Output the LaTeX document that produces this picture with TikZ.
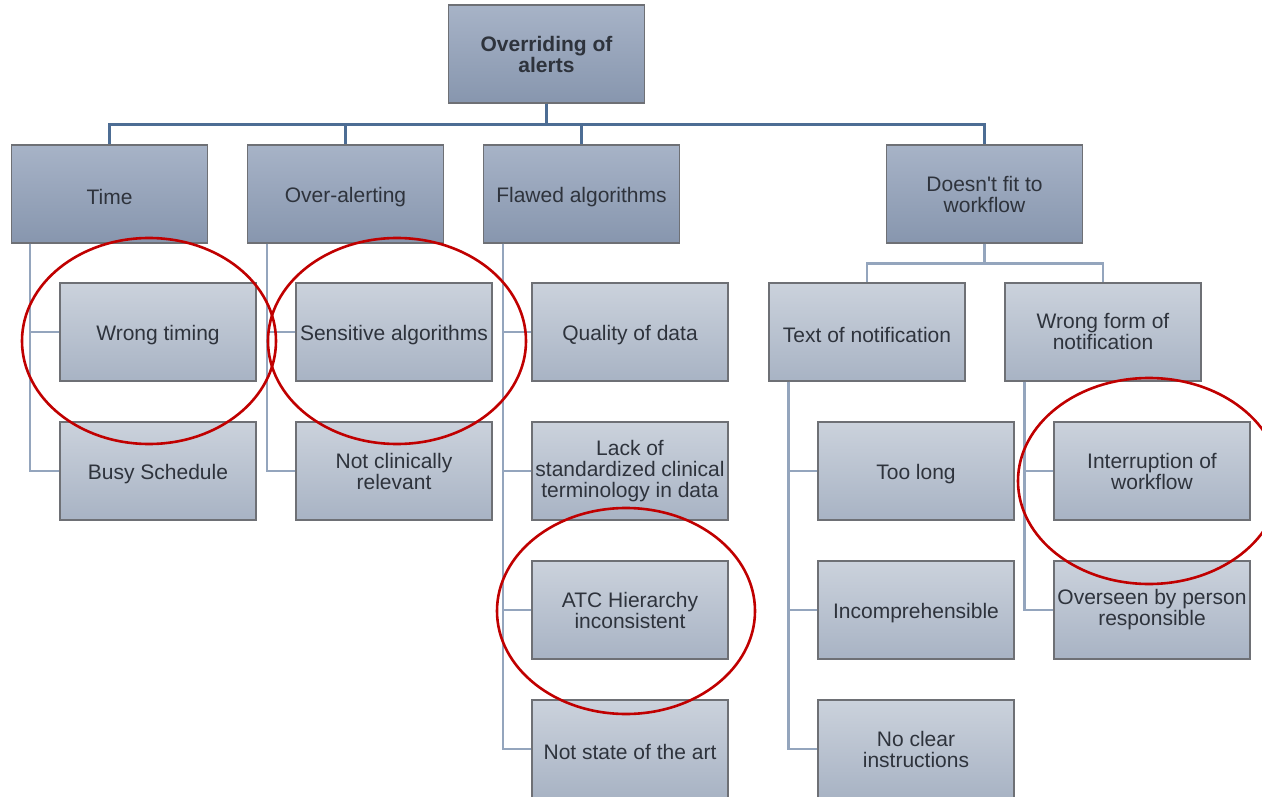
\documentclass[tikz,border=0pt]{standalone}
\usepackage{fontspec}
\setmainfont{Liberation Sans}
\definecolor{txt}{HTML}{2E333C}
\definecolor{bord}{HTML}{6E7075}
\definecolor{aT}{HTML}{A7B3C7}
\definecolor{aB}{HTML}{8796AE}
\definecolor{bT}{HTML}{CBD2DC}
\definecolor{bB}{HTML}{A8B3C4}
\definecolor{mainln}{HTML}{4D6D94}
\definecolor{subln}{HTML}{94A5BD}
\definecolor{ring}{HTML}{C00000}
\newcommand{\oneline}[1]{\raisebox{-3pt}[\height][\depth]{#1}}
\tikzset{
  box/.style={draw=bord, line width=1.2pt, minimum width=196pt, minimum height=98pt,
    inner sep=2pt, align=center, text=txt, font=\fontsize{21}{21}\selectfont},
  lvlA/.style={box, top color=aT, bottom color=aB},
  lvlB/.style={box, top color=bT, bottom color=bB},
  mainconn/.style={draw=mainln, line width=2.6pt},
  subconn/.style={draw=subln, line width=2.4pt},
  redring/.style={draw=ring, line width=2.6pt}
}
\begin{document}
\begin{tikzpicture}[x=1pt,y=-1pt]
\useasboundingbox (0,0) rectangle (1262,797);
% nodes
\node[lvlA, font=\fontsize{21}{21}\selectfont\bfseries] (top) at (546.5,54) {Overriding of\\alerts};
\node[lvlA] (time) at (109.5,194) {\oneline{Time}};
\node[lvlA] (over) at (345.5,194) {\oneline{Over-alerting}};
\node[lvlA] (flaw) at (581.5,194) {\oneline{Flawed algorithms}};
\node[lvlA] (fit) at (984.5,194) {Doesn\textquotesingle t fit to\\workflow};
% level 2
\node[lvlB] (wt) at (158,332) {\oneline{Wrong timing}};
\node[lvlB] (bs) at (158,471) {\oneline{Busy Schedule}};
\node[lvlB] (sa) at (394,332) {\oneline{Sensitive algorithms}};
\node[lvlB] (ncr) at (394,471) {Not clinically\\relevant};
\node[lvlB] (qd) at (630,332) {\oneline{Quality of data}};
\node[lvlB] (lack) at (630,471) {Lack of\\standardized clinical\\terminology in data};
\node[lvlB] (atc) at (630,610) {ATC Hierarchy\\inconsistent};
\node[lvlB] (nsa) at (630,749) {\oneline{Not state of the art}};
\node[lvlB] (ton) at (867,332) {\oneline{Text of notification}};
\node[lvlB] (wfn) at (1103,332) {Wrong form of\\notification};
\node[lvlB] (tl) at (916,471) {\oneline{Too long}};
\node[lvlB] (inc) at (916,610) {\oneline{Incomprehensible}};
\node[lvlB] (nci) at (916,749) {No clear\\instructions};
\node[lvlB] (iow) at (1152,471) {Interruption of\\workflow};
\node[lvlB] (obp) at (1152,610) {Overseen by person\\responsible};
% connectors
\foreach \n in {time,over,flaw,fit}{
  \draw[mainconn] (top.south) -- ++(0,21) -| (\n.north);
}
\draw[subconn] ([xshift=19pt]time.south west) |- (wt.west);
\draw[subconn] ([xshift=19pt]time.south west) |- (bs.west);
\draw[subconn] ([xshift=20pt]over.south west) |- (sa.west);
\draw[subconn] ([xshift=20pt]over.south west) |- (ncr.west);
\foreach \n in {qd,lack,atc,nsa}{
  \draw[subconn] ([xshift=20pt]flaw.south west) |- (\n.west);
}
\draw[subconn] (fit.south) -- ++(0,20) -| (ton.north);
\draw[subconn] (fit.south) -- ++(0,20) -| (wfn.north);
\foreach \n in {tl,inc,nci}{
  \draw[subconn] ([xshift=20pt]ton.south west) |- (\n.west);
}
\draw[subconn] ([xshift=20pt]wfn.south west) |- (iow.west);
\draw[subconn] ([xshift=20pt]wfn.south west) |- (obp.west);
% red ellipses
\draw[redring] (149,341) ellipse [x radius=127pt, y radius=103pt];
\draw[redring] (397,341) ellipse [x radius=129pt, y radius=103pt];
\draw[redring] (626,611) ellipse [x radius=129pt, y radius=103pt];
\draw[redring] (1149,481) ellipse [x radius=131pt, y radius=103pt];
\end{tikzpicture}
\end{document}
